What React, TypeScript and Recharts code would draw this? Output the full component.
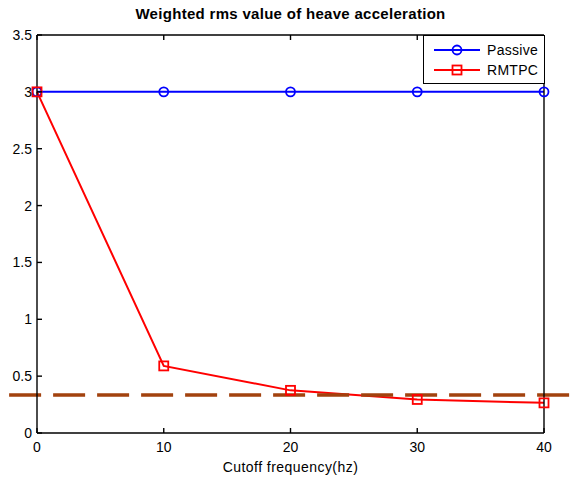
import React from 'react';
import { LineChart, Line, XAxis, YAxis, ReferenceLine } from 'recharts';

const cutoff = [0, 10, 20, 30, 40];
const passive = [3.0, 3.0, 3.0, 3.0, 3.0];
const rmtpc = [3.0, 0.59, 0.375, 0.295, 0.265];
const xTicks = [0, 10, 20, 30, 40];
const yTicks = [0, 0.5, 1, 1.5, 2, 2.5, 3, 3.5];
const yTickLabels = ['0', '0.5', '1', '1.5', '2', '2.5', '3', '3.5'];
const thresholdValue = 0.334;
const thresholdSpan = [-2.2, 42];

const data = cutoff.map((c, i) => ({ x: c, passive: passive[i], rmtpc: rmtpc[i] }));

const FONT = '"Liberation Sans", Arial, Helvetica, sans-serif';
const TICK_LEN = 5;
const XM = 8;
const YM = 5;
const MM = 10;
const AXW = 1.4;

const CircleDot = (props: any) => {
  const { cx, cy } = props;
  if (cx == null || cy == null) return null;
  return <circle cx={cx} cy={cy} r={4.5} fill="none" stroke="#0000FF" strokeWidth={1.8} />;
};
const SquareDot = (props: any) => {
  const { cx, cy } = props;
  if (cx == null || cy == null) return null;
  return <rect x={cx - 4.5} y={cy - 4.5} width={9} height={9} fill="none" stroke="#FF0000" strokeWidth={1.8} />;
};

const BottomTick = (props: any) => {
  const { x, y, payload } = props;
  const ay = y - XM;
  return (
    <g>
      <line x1={x} y1={ay} x2={x} y2={ay - TICK_LEN} stroke="#000" strokeWidth={AXW} />
      <text x={x} y={y} dy="0.78em" textAnchor="middle" fill="#000" fontSize={14} fontFamily={FONT}>{payload.value}</text>
    </g>
  );
};
const LeftTick = (props: any) => {
  const { x, y, payload } = props;
  const ax = x + YM;
  const label = yTickLabels[yTicks.indexOf(payload.value)] ?? String(payload.value);
  return (
    <g>
      <line x1={ax} y1={y} x2={ax + TICK_LEN} y2={y} stroke="#000" strokeWidth={AXW} />
      <text x={x} y={y} dy="0.36em" textAnchor="end" fill="#000" fontSize={14} fontFamily={FONT}>{label}</text>
    </g>
  );
};
const TopTick = (props: any) => {
  const { x, y } = props;
  const ay = y - MM;
  return <line x1={x} y1={ay} x2={x} y2={ay + TICK_LEN} stroke="#000" strokeWidth={AXW} />;
};
const RightTick = (props: any) => {
  const { x, y } = props;
  const ax = x + MM;
  return <line x1={ax} y1={y} x2={ax - TICK_LEN} y2={y} stroke="#000" strokeWidth={AXW} />;
};

const tl = { stroke: '#000', strokeWidth: AXW };

export default function App() {
  return (
    <div style={{ position: 'absolute', left: 0, top: 0, width: 579, height: 479, background: '#fff', fontFamily: FONT }}>
      <div style={{ position: 'absolute', top: 5, left: 37, width: 507, textAlign: 'center', fontWeight: 'bold', fontSize: 15, letterSpacing: 0.3, color: '#000' }}>
        Weighted rms value of heave acceleration
      </div>
      <LineChart width={579} height={479} data={data} margin={{ top: 35, right: 35, bottom: 16, left: 0 }}>
        <XAxis xAxisId="x" dataKey="x" type="number" domain={[0, 40]} ticks={xTicks} orientation="bottom" height={30}
          tickLine={false} tickSize={0} axisLine={tl} tick={<BottomTick />} tickMargin={XM} interval={0}
          label={{ value: 'Cutoff frequency(hz)', position: 'insideBottom', offset: -9, fill: '#000', fontSize: 14, fontFamily: FONT, letterSpacing: 0.45 }} />
        <XAxis xAxisId="xt" dataKey="x" type="number" domain={[0, 40]} ticks={xTicks} orientation="top" mirror
          tick={<TopTick />} tickLine={false} tickSize={0} tickMargin={MM} axisLine={tl} interval={0} />
        <YAxis yAxisId="y" type="number" domain={[0, 3.5]} ticks={yTicks} orientation="left" width={37}
          tickLine={false} tickSize={0} axisLine={tl} tick={<LeftTick />} tickMargin={YM} interval={0} />
        <YAxis yAxisId="yr" type="number" domain={[0, 3.5]} ticks={yTicks} orientation="right" mirror
          tick={<RightTick />} tickLine={false} tickSize={0} tickMargin={MM} axisLine={tl} interval={0} />
        <Line xAxisId="x" yAxisId="y" dataKey="passive" stroke="#0000FF" strokeWidth={2} dot={<CircleDot />}
          isAnimationActive={false} type="linear" activeDot={false} />
        <Line xAxisId="x" yAxisId="y" dataKey="rmtpc" stroke="#FF0000" strokeWidth={2} dot={<SquareDot />}
          isAnimationActive={false} type="linear" activeDot={false} />
        <ReferenceLine xAxisId="x" yAxisId="y" ifOverflow="visible"
          segment={[{ x: thresholdSpan[0], y: thresholdValue }, { x: thresholdSpan[1], y: thresholdValue }]}
          stroke="#A2420E" strokeWidth={3.5} strokeDasharray="32 12" />
      </LineChart>
      <div style={{ position: 'absolute', left: 423, top: 35, width: 120, height: 47, border: '1px solid #000', background: '#fff', fontSize: 14, letterSpacing: 0.3, color: '#000' }}>
        <div style={{ position: 'absolute', top: 5, left: 0, height: 18, display: 'flex', alignItems: 'center' }}>
          <svg width={60} height={18} style={{ display: 'block' }}>
            <line x1={10} y1={9} x2={56} y2={9} stroke="#0000FF" strokeWidth={2} />
            <circle cx={33} cy={9} r={4.5} fill="none" stroke="#0000FF" strokeWidth={1.8} />
          </svg>
          <span style={{ marginLeft: 3 }}>Passive</span>
        </div>
        <div style={{ position: 'absolute', top: 25, left: 0, height: 18, display: 'flex', alignItems: 'center' }}>
          <svg width={60} height={18} style={{ display: 'block' }}>
            <line x1={10} y1={9} x2={56} y2={9} stroke="#FF0000" strokeWidth={2} />
            <rect x={28.5} y={4.5} width={9} height={9} fill="none" stroke="#FF0000" strokeWidth={1.8} />
          </svg>
          <span style={{ marginLeft: 3 }}>RMTPC</span>
        </div>
      </div>
    </div>
  );
}
